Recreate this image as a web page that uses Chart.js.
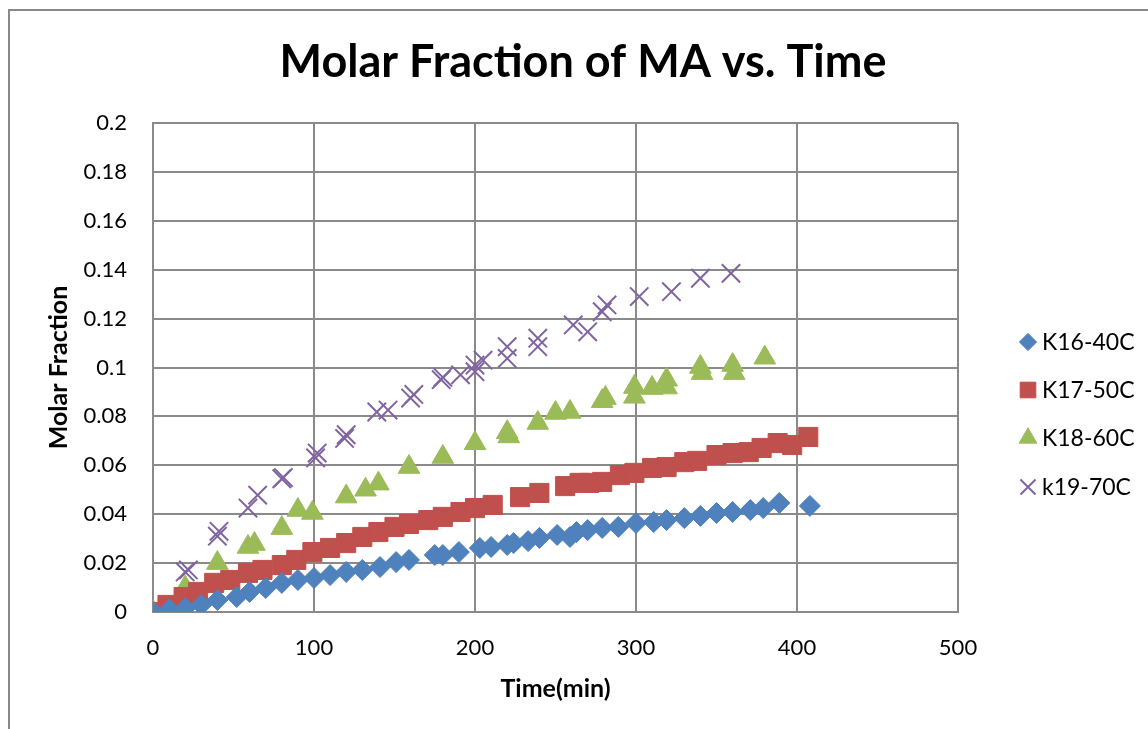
<!DOCTYPE html>
<html>
<head>
<meta charset="utf-8">
<script src="https://cdn.jsdelivr.net/npm/chart.js@4.4.0/dist/chart.umd.min.js"></script>
<style>
  html, body { margin: 0; padding: 0; background: #fff; }
  #wrap { position: relative; width: 1148px; height: 729px; }
</style>
</head>
<body>
<div id="wrap"><canvas id="molarChart" width="1148" height="729"></canvas></div>
<script>
// Data (time in min, molar fraction)
const k16Time = [0, 10, 20, 30, 40, 52, 60, 70, 80, 90, 100, 110, 120, 130, 141, 151, 159, 175, 180, 190, 203, 210, 220, 224, 233, 240, 251, 259, 263, 270, 279, 289, 300, 311, 319, 330, 340, 350, 360, 371, 379, 389, 408];
const k16Frac = [0, 0.001, 0.0016, 0.0029, 0.0049, 0.0061, 0.0082, 0.0098, 0.0119, 0.0131, 0.0139, 0.0151, 0.0164, 0.0172, 0.0184, 0.0204, 0.0213, 0.0233, 0.0233, 0.0245, 0.0262, 0.0266, 0.0274, 0.0282, 0.029, 0.0303, 0.0315, 0.0307, 0.0327, 0.0335, 0.0344, 0.0348, 0.0364, 0.0368, 0.0376, 0.0384, 0.0393, 0.0405, 0.0409, 0.0417, 0.0425, 0.0446, 0.0434];

const k17Time = [0, 9, 19, 28, 38, 48, 59, 68, 80, 89, 99, 110, 120, 130, 140, 150, 159, 171, 180, 191, 200, 211, 228, 240, 256, 265, 271, 279, 290, 299, 310, 319, 330, 338, 350, 360, 370, 378, 388, 397, 407];
const k17Frac = [0, 0.0029, 0.0061, 0.0082, 0.0119, 0.0131, 0.016, 0.0172, 0.0192, 0.0213, 0.0245, 0.0262, 0.0282, 0.0307, 0.0327, 0.0348, 0.036, 0.0376, 0.0389, 0.0409, 0.0425, 0.0438, 0.047, 0.0487, 0.0515, 0.0528, 0.0528, 0.0532, 0.056, 0.0569, 0.0589, 0.0593, 0.0613, 0.0618, 0.0642, 0.065, 0.0654, 0.0671, 0.0691, 0.0683, 0.0716];

const k18Time = [0, 20, 40, 59, 63, 80, 90, 99, 120, 132, 140, 159, 180, 200, 220, 221, 239, 250, 259, 279, 281, 299, 299, 310, 319, 319, 340, 341, 360, 361, 380];
const k18Frac = [0, 0.01, 0.02, 0.0266, 0.0278, 0.0343, 0.0417, 0.0405, 0.0472, 0.05, 0.0525, 0.0593, 0.0634, 0.069, 0.0735, 0.0718, 0.0773, 0.0814, 0.0818, 0.0862, 0.0875, 0.092, 0.088, 0.0916, 0.095, 0.0918, 0.1002, 0.0977, 0.101, 0.0977, 0.104];

const k19Time = [0, 2, 20, 22, 40, 41, 59, 65, 80, 81, 101, 102, 119, 120, 139, 146, 160, 162, 179, 180, 191, 200, 200, 205, 220, 220, 239, 239, 261, 270, 279, 282, 302, 322, 340, 359];
const k19Frac = [0, 0.001, 0.0164, 0.0172, 0.031, 0.033, 0.0425, 0.0478, 0.0545, 0.055, 0.063, 0.065, 0.071, 0.0725, 0.0818, 0.0826, 0.0875, 0.089, 0.095, 0.096, 0.097, 0.101, 0.0983, 0.103, 0.1085, 0.1037, 0.112, 0.1085, 0.1174, 0.1146, 0.1228, 0.1256, 0.129, 0.131, 0.1365, 0.1385];

const xTicks = [0, 100, 200, 300, 400, 500];
const yTicks = [0, 0.02, 0.04, 0.06, 0.08, 0.1, 0.12, 0.14, 0.16, 0.18, 0.2];

const FONT = 'Lato, "Open Sans", sans-serif';

function toPoints(xs, ys) {
    return xs.map((x, i) => ({ x: x, y: ys[i] }));
}

function series(label, xs, ys, color, style, radius, fill) {
    return {
        label: label,
        data: toPoints(xs, ys),
        pointStyle: style,
        pointRadius: radius,
        pointHoverRadius: radius,
        backgroundColor: fill ? color : 'rgba(0,0,0,0)',
        borderColor: color,
        pointBorderWidth: fill ? 1 : 2,
        showLine: false
    };
}

// outer frame, title and legend drawn by hand, like the spreadsheet export
const framePlugin = {
    id: 'frame',
    beforeDraw(chart) {
        const c = chart.ctx;
        c.save();
        c.fillStyle = '#fff';
        c.fillRect(0, 0, chart.width, chart.height);
        c.strokeStyle = '#888';
        c.lineWidth = 2;
        c.strokeRect(9, 10, 1300, 900);
        c.fillStyle = '#000';
        c.font = 'bold 45px ' + FONT;
        c.textAlign = 'center';
        c.textBaseline = 'middle';
        c.fillText('Molar Fraction of MA vs. Time', 583, 62);
        c.restore();
    },
    afterDraw(chart) {
        const c = chart.ctx;
        const rows = [342, 390, 438, 487];
        c.save();
        c.font = '23px ' + FONT;
        c.textBaseline = 'middle';
        chart.data.datasets.forEach((ds, i) => {
            c.fillStyle = ds.backgroundColor;
            c.strokeStyle = ds.borderColor;
            c.lineWidth = ds.pointBorderWidth;
            Chart.helpers.drawPoint(c, { pointStyle: ds.pointStyle, radius: ds.pointRadius * 0.82, borderWidth: ds.pointBorderWidth }, 1028, rows[i]);
            c.fillStyle = '#000';
            c.fillText(ds.label, 1042, rows[i] + 1);
        });
        c.restore();
    }
};

const ctx = document.getElementById('molarChart').getContext('2d');
const molarChart = new Chart(ctx, {
    type: 'scatter',
    data: {
        datasets: [
            series('K16-40C', k16Time, k16Frac, '#4F81BD', 'rectRot', 10.5, true),
            series('K17-50C', k17Time, k17Frac, '#C0504D', 'rect', 13.5, true),
            series('K18-60C', k18Time, k18Frac, '#9BBB59', 'triangle', 12.5, true),
            series('k19-70C', k19Time, k19Frac, '#8064A2', 'crossRot', 13, false)
        ]
    },
    options: {
        responsive: false,
        animation: false,
        events: [],
        layout: { padding: { left: 0, right: 190, top: 123, bottom: 0 } },
        plugins: {
            legend: { display: false },
            tooltip: { enabled: false },
            title: { display: false }
        },
        scales: {
            x: {
                type: 'linear',
                min: xTicks[0],
                max: xTicks[xTicks.length - 1],
                afterBuildTicks(scale) { scale.ticks = xTicks.map(v => ({ value: v })); },
                afterFit(scale) { scale.height = 117; },
                grid: { color: '#8a8a8a', lineWidth: 2, drawTicks: false },
                border: { color: '#8a8a8a', width: 2 },
                ticks: { color: '#000', padding: 23, font: { family: FONT, size: 22 } },
                title: {
                    display: true,
                    text: 'Time(min)',
                    color: '#000',
                    font: { family: FONT, size: 25, weight: 'bold', lineHeight: 1.2 },
                    padding: { top: 0, bottom: 25 }
                }
            },
            y: {
                type: 'linear',
                min: yTicks[0],
                max: yTicks[yTicks.length - 1],
                afterBuildTicks(scale) { scale.ticks = yTicks.map(v => ({ value: v })); },
                afterFit(scale) { scale.width = 153; },
                grid: { color: '#8a8a8a', lineWidth: 2, drawTicks: false },
                border: { color: '#8a8a8a', width: 2 },
                ticks: {
                    color: '#000',
                    padding: 26,
                    font: { family: FONT, size: 22 },
                    callback: v => String(+v.toFixed(2))
                },
                title: {
                    display: true,
                    text: 'Molar Fraction',
                    color: '#000',
                    font: { family: FONT, size: 25, weight: 'bold', lineHeight: 1.2 },
                    padding: { top: 44, bottom: 0 }
                }
            }
        }
    },
    plugins: [framePlugin]
});
</script>
</body>
</html>
